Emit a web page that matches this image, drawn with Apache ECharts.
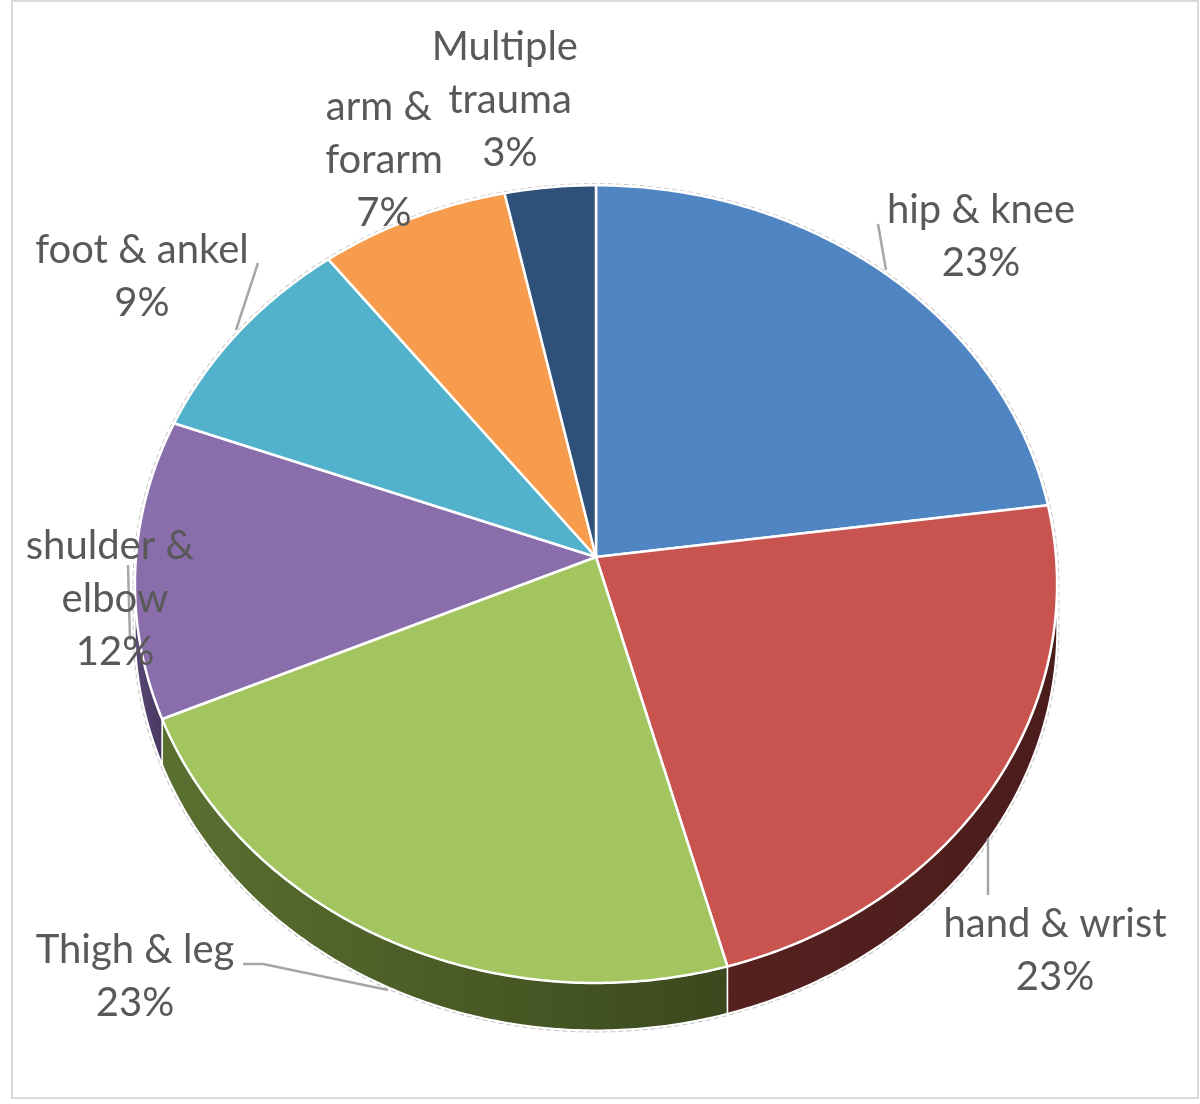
<!DOCTYPE html>
<html>
<head>
<meta charset="utf-8">
<script src="https://cdn.jsdelivr.net/npm/echarts@6/dist/echarts.min.js"></script>
<style>
  html, body { margin: 0; padding: 0; background: #fff; }
  #main { width: 1200px; height: 1104px; }
</style>
</head>
<body>
<div id="main"></div>
<script>
// data
const categories = ['hip & knee', 'hand & wrist', 'Thigh & leg', 'shulder & elbow', 'foot & ankel', 'arm & forarm', 'Multiple trauma']
const values = [22.9, 22.8, 22.8, 12.1, 8.9, 7.1, 3.4]

// styles / layout
const colors = ['#5085c4', '#c8534f', '#a3c560', '#8a6dab', '#52b2cb', '#f79c4c', '#2f5179']
const wallColors = [['#2c4a70', '#23395a'], ['#55211f', '#4a1c1c'], ['#5a7030', '#3b481d'], ['#5a4777', '#47375f'], ['#2d6a7a', '#245562'], ['#94592b', '#7a4a24'], ['#1c3049', '#152538']]
const labelPos = [[981, 237], [1055, 951], [135, 977], [115, 599], [142, 277], [384, 160], [510, 100]]
const labelWidth = [270, 270, 250, 190, 270, 135, 160]
const leaders = [
  [[878, 224], [886, 270]],
  [[988, 838], [988, 895]],
  [[243, 964], [263, 964], [388, 990]],
  [[128, 565], [130, 640]],
  [[258, 263], [236, 330]],
  null,
  null,
]

// 3d-ish pie geometry (tilted disc with a little perspective)
const PIE = { cx: 596, cy: 557, a: 460, b: 397, p: 0.068, h: 44 }

function proj(t, r, down) {
  const X = r * Math.sin(t)
  const Y = r * Math.cos(t)
  const s = 1 / (1 + PIE.p * Y)
  return [PIE.cx + PIE.a * X * s, PIE.cy + (-PIE.b * Y + (down || 0)) * s]
}

const total = values.reduce((a, b) => a + b, 0)
const angles = []
let acc = 0
values.forEach((v) => {
  const t0 = acc / total * Math.PI * 2
  acc += v
  angles.push([t0, acc / total * Math.PI * 2])
})

function arcPts(t0, t1, down) {
  const pts = []
  const n = Math.max(4, Math.ceil((t1 - t0) / 0.01))
  for (let k = 0; k <= n; k++)
    pts.push(proj(t0 + (t1 - t0) * k / n, 1, down))
  return pts
}

// front wall is visible only between the two silhouette points
const wallLo = Math.acos(-PIE.p)
const wallHi = Math.PI * 2 - wallLo

function renderWall(params) {
  const i = params.dataIndex
  const a = Math.max(angles[i][0], wallLo)
  const b = Math.min(angles[i][1], wallHi)
  if (b <= a)
    return null
  const top = arcPts(a, b, 0)
  const bottom = arcPts(a, b, PIE.h).reverse()
  return {
    type: 'polygon',
    shape: { points: top.concat(bottom) },
    style: {
      fill: new echarts.graphic.LinearGradient(0, 0, 1, 0, [
        { offset: 0, color: wallColors[i][0] },
        { offset: 1, color: wallColors[i][1] },
      ]),
      stroke: '#ffffff',
      lineWidth: 1.5,
    },
  }
}

function renderTop(params) {
  const i = params.dataIndex
  const pts = [proj(0, 0)].concat(arcPts(angles[i][0], angles[i][1], 0))
  return {
    type: 'polygon',
    shape: { points: pts },
    style: { fill: colors[i], stroke: '#ffffff', lineWidth: 2.5, lineJoin: 'round' },
  }
}

function renderLabel(params) {
  const i = params.dataIndex
  const children = []
  if (leaders[i]) {
    children.push({
      type: 'polyline',
      shape: { points: leaders[i] },
      style: { stroke: '#a6a6a6', lineWidth: 2.5, fill: null },
    })
  }
  children.push({
    type: 'text',
    x: labelPos[i][0],
    y: labelPos[i][1],
    style: {
      text: categories[i] + '\n' + Math.round(values[i] / total * 100) + '%',
      fill: '#595959',
      fontFamily: 'Lato',
      fontSize: 40,
      lineHeight: 53,
      align: 'center',
      verticalAlign: 'middle',
      width: labelWidth[i],
      overflow: 'break',
    },
  })
  return { type: 'group', children }
}

// faint dashed outline around the whole disc
const outline = arcPts(wallHi - Math.PI * 2, wallLo, 0).concat(arcPts(wallLo, wallHi, PIE.h))

const seriesData = categories.map((c, i) => ({ name: c, value: values[i] }))

const chart = echarts.init(document.getElementById('main'))
chart.setOption({
  backgroundColor: '#ffffff',
  animation: false,
  graphic: [
    {
      type: 'rect',
      shape: { x: 12, y: 1, width: 1186, height: 1097 },
      style: { fill: null, stroke: '#d9d9d9', lineWidth: 2 },
      z: -1,
    },
    {
      type: 'polygon',
      shape: { points: outline.map(p => [p[0] + 0, p[1]]) },
      scaleX: 1.004,
      scaleY: 1.004,
      originX: PIE.cx,
      originY: PIE.cy + 20,
      style: { fill: null, stroke: '#c4c4c4', lineWidth: 1, lineDash: [5, 3] },
      z: -1,
    },
  ],
  series: [
    { type: 'custom', coordinateSystem: 'none', data: seriesData, renderItem: renderWall, z: 1 },
    { type: 'custom', coordinateSystem: 'none', data: seriesData, renderItem: renderTop, z: 2 },
    { type: 'custom', coordinateSystem: 'none', data: seriesData, renderItem: renderLabel, z: 3 },
  ],
})
</script>
</body>
</html>
